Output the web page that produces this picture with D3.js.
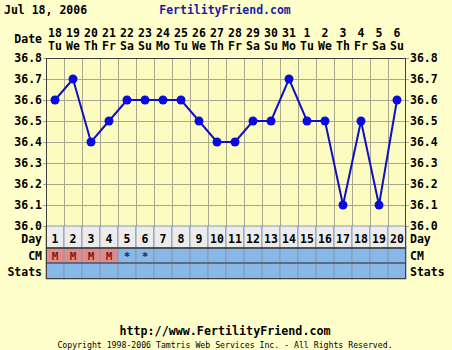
<!DOCTYPE html>
<html>
<head>
<meta charset="utf-8">
<script src="https://cdn.jsdelivr.net/npm/d3@7"></script>
<style>
  body { margin: 0; background: #ffffcc; }
  svg { display: block; font-family: "DejaVu Sans Mono", monospace; font-weight: bold; }
</style>
</head>
<body>
<svg width="452" height="350"></svg>
<script>
// chart data
const days = d3.range(1, 21);
const dates = ["18","19","20","21","22","23","24","25","26","27","28","29","30","31","1","2","3","4","5","6"];
const weekdays = ["Tu","We","Th","Fr","Sa","Su","Mo","Tu","We","Th","Fr","Sa","Su","Mo","Tu","We","Th","Fr","Sa","Su"];
const temps = [36.6,36.7,36.4,36.5,36.6,36.6,36.6,36.6,36.5,36.4,36.4,36.5,36.5,36.7,36.5,36.5,36.1,36.5,36.1,36.6];
const cm = ["M","M","M","M","*","*","","","","","","","","","","","","","",""];
const tempTicks = [36.0,36.1,36.2,36.3,36.4,36.5,36.6,36.7,36.8];

const svg = d3.select("svg");
const left = 46, right = 406;

const x = d3.scaleBand().domain(days).range([left, right]);
const y = d3.scaleLinear().domain([36.0, 36.8]).range([226, 58]);

svg.append("rect").attr("width", 452).attr("height", 350).attr("fill", "#ffffcc");
svg.append("rect").attr("x", left).attr("y", y(36.8)).attr("width", right - left)
  .attr("height", y(36.0) - y(36.8)).attr("fill", "#fcfcc0");

// header
svg.append("text").attr("x", 4).attr("y", 14).attr("font-size", 11.5).text("Jul 18, 2006");
svg.append("text").attr("x", 225).attr("y", 14).attr("font-size", 11.5)
  .attr("text-anchor", "middle").attr("fill", "#1c1ca8").text("FertilityFriend.com");

svg.append("text").attr("x", 42).attr("y", 43).attr("font-size", 11.5)
  .attr("text-anchor", "end").text("Date");
svg.selectAll(".dt").data(days).enter().append("text")
  .attr("x", d => x(d) + x.bandwidth() / 2).attr("y", 37).attr("font-size", 11.5)
  .attr("text-anchor", "middle").text((d, i) => dates[i]);
svg.selectAll(".wd").data(days).enter().append("text")
  .attr("x", d => x(d) + x.bandwidth() / 2).attr("y", 50).attr("font-size", 11.5)
  .attr("text-anchor", "middle").text((d, i) => weekdays[i]);

// grid
const grid = svg.append("g").attr("stroke", "#a8a890").attr("stroke-width", 1);
grid.selectAll(".h").data(tempTicks).enter().append("line")
  .attr("x1", left - 3).attr("x2", right + 3)
  .attr("y1", d => Math.round(y(d)) + 0.5).attr("y2", d => Math.round(y(d)) + 0.5);
grid.selectAll(".v").data(days.slice(1)).enter().append("line")
  .attr("x1", d => x(d) + 0.5).attr("x2", d => x(d) + 0.5)
  .attr("y1", y(36.8)).attr("y2", y(36.0));

// temperature labels both sides
svg.selectAll(".yl").data(tempTicks).enter().append("text")
  .attr("x", 42).attr("y", d => y(d) + 4).attr("font-size", 11.5)
  .attr("text-anchor", "end").text(d => d.toFixed(1));
svg.selectAll(".yr").data(tempTicks).enter().append("text")
  .attr("x", 410).attr("y", d => y(d) + 4).attr("font-size", 11.5)
  .text(d => d.toFixed(1));

// bottom rows
const rows = [
  { name: "Day", top: 226, h: 22, fill: "#ececec", base: 243 },
  { name: "CM", top: 248, h: 15, fill: "#88b8e8", base: 260 },
  { name: "Stats", top: 263, h: 16, fill: "#88b8e8", base: 276 }
];
rows.forEach(r => {
  svg.selectAll(null).data(days).enter().append("rect")
    .attr("x", d => x(d)).attr("y", r.top).attr("width", x.bandwidth()).attr("height", r.h)
    .attr("fill", (d, i) => r.name === "CM" && cm[i] === "M" ? "#e08c8c" : r.fill)
    .attr("stroke", "#8a9ab0").attr("stroke-width", 1);
  svg.append("text").attr("x", 42).attr("y", r.base).attr("font-size", 11.5)
    .attr("text-anchor", "end").text(r.name);
  svg.append("text").attr("x", 410).attr("y", r.base).attr("font-size", 11.5)
    .text(r.name);
});
svg.append("line").attr("x1", left).attr("x2", right).attr("y1", 248).attr("y2", 248)
  .attr("stroke", "#333").attr("stroke-width", 1.5);
svg.append("line").attr("x1", left).attr("x2", right).attr("y1", 263).attr("y2", 263)
  .attr("stroke", "#333").attr("stroke-width", 1);

svg.selectAll(".dn").data(days).enter().append("text")
  .attr("x", d => x(d) + x.bandwidth() / 2).attr("y", 243).attr("font-size", 11.5)
  .attr("text-anchor", "middle").text(d => d);
svg.selectAll(".cm").data(days).enter().append("text")
  .attr("x", d => x(d) + x.bandwidth() / 2).attr("y", 260).attr("font-size", 11)
  .attr("text-anchor", "middle").attr("fill", (d, i) => cm[i] === "M" ? "#801818" : "#202060")
  .text((d, i) => cm[i]);

// plot border
svg.append("rect").attr("x", left + 0.5).attr("y", y(36.8) + 0.5)
  .attr("width", right - left - 1).attr("height", 279 - y(36.8) - 1)
  .attr("fill", "none").attr("stroke", "#404040");

// temperature line and dots
const line = d3.line().x((d, i) => x(days[i]) + x.bandwidth() / 2).y(d => y(d));
svg.append("path").datum(temps).attr("d", line)
  .attr("fill", "none").attr("stroke", "#1010c0").attr("stroke-width", 2);
svg.selectAll(".dot").data(temps).enter().append("circle")
  .attr("cx", (d, i) => x(days[i]) + x.bandwidth() / 2).attr("cy", d => y(d))
  .attr("r", 4.5).attr("fill", "#0a0ae0");

// footer
svg.append("text").attr("x", 225).attr("y", 335).attr("font-size", 11.7)
  .attr("text-anchor", "middle").text("http://www.FertilityFriend.com");
svg.append("text").attr("x", 225).attr("y", 348).attr("font-size", 8.2)
  .attr("font-weight", "normal").attr("text-anchor", "middle")
  .text("Copyright 1998-2006 Tamtris Web Services Inc. - All Rights Reserved.");
</script>
</body>
</html>
